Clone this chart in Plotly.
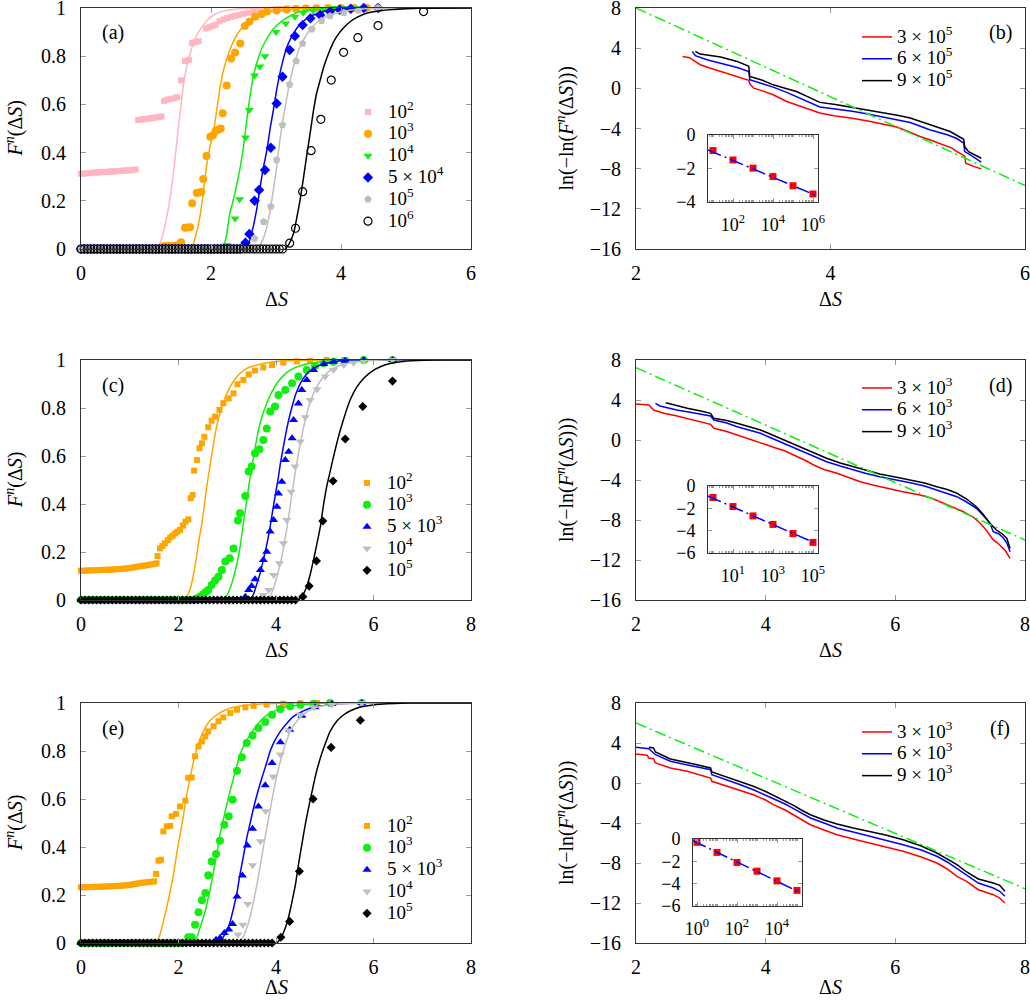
import plotly.graph_objects as go

W, H = 1030, 1002
FONT = "Liberation Serif, DejaVu Serif, Noto Serif, Times New Roman, serif"

# ---------------- Panel (a) data ----------------
a_base_x = [0.00,0.05,0.10,0.15,0.20,0.25,0.30,0.35,0.40,0.45,0.50,0.55,0.60,0.65,0.70,0.75,0.80,0.85,0.90,0.95,
            1.00,1.05,1.10,1.15,1.20,1.25,1.30,1.35,1.40,1.45,1.50,1.55,1.60,1.65,1.70,1.75,1.80,1.85,1.90,1.95,
            2.00,2.05,2.10,2.15,2.20,2.25,2.30,2.35,2.40,2.45,2.50,2.55,2.60,2.65,2.70,2.75,2.80,2.85,2.90,2.95,
            3.00,3.05,3.10]

a_pink_x = [0.00,0.04,0.08,0.12,0.16,0.20,0.24,0.28,0.32,0.36,0.40,0.44,0.48,0.52,0.56,0.60,0.64,0.68,0.72,0.76,0.80,0.84,
            0.88,0.92,0.96,1.00,1.04,1.08,1.12,1.16,1.20,1.24,1.28,1.33,1.38,1.43,1.48,1.54,1.60,1.66,1.71,1.76,1.81,
            1.92,1.97,2.02,2.07,2.13,2.19,2.25,2.31,2.37,2.43,2.50,2.58,2.66,2.75,2.85,2.95,3.06,3.18,3.30,3.45]
a_pink_y = [0.312,0.313,0.314,0.315,0.316,0.317,0.318,0.318,0.319,0.320,0.320,0.321,0.322,0.322,0.323,0.324,0.325,0.326,0.326,0.327,0.328,0.330,
            0.535,0.537,0.538,0.540,0.541,0.543,0.545,0.546,0.548,0.550,0.615,0.620,0.622,0.625,0.630,0.70,0.78,0.785,0.855,0.858,0.862,
            0.915,0.92,0.925,0.93,0.945,0.952,0.958,0.963,0.967,0.971,0.976,0.980,0.984,0.988,0.991,0.994,0.996,0.998,0.999,1.0]
a_pink_fit_x = [1.18,1.25,1.32,1.38,1.42,1.46,1.50,1.54,1.58,1.63,1.68,1.75,1.83,1.93,2.04,2.20,2.40,2.70,3.2,6.0]
a_pink_fit_y = [0.0,0.05,0.134,0.23,0.314,0.41,0.507,0.60,0.688,0.76,0.812,0.87,0.909,0.945,0.971,0.988,0.996,0.999,1.0,1.0]

a_orange_x = [1.28,1.34,1.40,1.46,1.54,1.60,1.64,1.68,1.71,1.78,1.82,1.85,1.88,1.93,1.99,2.03,2.07,2.11,2.15,2.18,2.24,
              2.31,2.37,2.45,2.52,2.59,2.68,2.78,2.86,3.01,3.16,3.31,3.46,3.62,3.80,4.0,4.2,4.4,4.57]
a_orange_y = [0.012,0.013,0.014,0.015,0.028,0.088,0.089,0.090,0.19,0.232,0.234,0.236,0.29,0.386,0.466,0.472,0.49,0.495,0.50,0.563,0.678,
              0.79,0.815,0.853,0.925,0.943,0.964,0.975,0.985,0.99,0.994,0.996,0.998,0.999,1,1,1,1,1]
a_orange_fit_x = [1.70,1.76,1.83,1.88,1.93,1.98,2.04,2.09,2.14,2.20,2.29,2.37,2.45,2.56,2.70,2.85,3.01,3.3,3.8,6.0]
a_orange_fit_y = [0.0,0.05,0.134,0.23,0.34,0.42,0.49,0.58,0.67,0.75,0.826,0.875,0.909,0.945,0.97,0.983,0.99,0.997,1.0,1.0]

a_green_x = [2.24,2.37,2.44,2.53,2.59,2.67,2.75,2.83,3.00,3.15,3.29,3.42,3.57,3.73,3.90,4.08,4.27]
a_green_y = [0.017,0.127,0.206,0.463,0.577,0.72,0.757,0.80,0.90,0.936,0.964,0.98,0.99,0.996,1,1,1]
a_green_fit_x = [2.19,2.24,2.29,2.34,2.39,2.45,2.50,2.57,2.65,2.75,2.83,2.91,3.00,3.11,3.24,3.37,3.68,4.2,6.0]
a_green_fit_y = [0.0,0.06,0.148,0.20,0.259,0.34,0.425,0.577,0.715,0.81,0.86,0.895,0.925,0.95,0.97,0.985,0.996,1.0,1.0]

a_blue_x = [2.53,2.59,2.67,2.74,2.83,2.92,3.01,3.10,3.21,3.29,3.41,3.53,3.68,3.83,3.98,4.15,4.35,4.57]
a_blue_y = [0.026,0.062,0.20,0.245,0.328,0.42,0.604,0.715,0.826,0.884,0.929,0.957,0.971,0.985,0.993,0.997,1,1]
a_blue_fit_x = [2.55,2.60,2.65,2.70,2.75,2.80,2.86,2.91,2.96,3.01,3.06,3.11,3.16,3.24,3.32,3.42,3.52,3.65,3.78,4.0,4.4,6.0]
a_blue_fit_y = [0.0,0.04,0.093,0.16,0.245,0.33,0.41,0.50,0.577,0.66,0.729,0.785,0.833,0.88,0.916,0.945,0.964,0.978,0.989,0.996,1.0,1.0]

a_gray_x = [2.67,2.81,2.92,3.01,3.10,3.21,3.31,3.41,3.55,3.70,3.83,4.04,4.27,4.57]
a_gray_y = [0.044,0.113,0.176,0.369,0.515,0.683,0.78,0.853,0.912,0.947,0.967,0.98,0.99,1.0]
a_gray_fit_x = [2.73,2.80,2.86,2.91,2.96,3.01,3.06,3.11,3.16,3.21,3.27,3.37,3.45,3.52,3.65,3.78,3.95,4.09,4.4,6.0]
a_gray_fit_y = [0.0,0.04,0.093,0.16,0.245,0.34,0.452,0.54,0.618,0.69,0.757,0.84,0.88,0.909,0.945,0.964,0.98,0.989,0.997,1.0]

a_black_x = [3.21,3.30,3.41,3.54,3.69,3.85,4.04,4.26,4.57,5.27]
a_black_y = [0.024,0.086,0.238,0.408,0.538,0.701,0.816,0.877,0.927,0.985]
a_black_fit_x = [3.14,3.20,3.27,3.32,3.37,3.42,3.47,3.52,3.57,3.62,3.68,3.74,3.81,3.87,3.93,4.03,4.14,4.26,4.39,4.6,4.81,5.2,6.0]
a_black_fit_y = [0.0,0.02,0.065,0.13,0.203,0.29,0.383,0.47,0.563,0.64,0.701,0.76,0.812,0.85,0.88,0.915,0.943,0.963,0.978,0.989,0.994,0.999,1.0]

a_labels = ["10<sup>2</sup>", "10<sup>3</sup>", "10<sup>4</sup>", "5 × 10<sup>4</sup>", "10<sup>5</sup>", "10<sup>6</sup>"]
a_zero_cut = [None, 1.25, 2.2, 2.5, 2.62, 3.12]

# ---------------- Panel (b) data ----------------
b_red_x = [2.48,2.55,2.58,2.66,2.75,2.87,3.00,3.07,3.16,3.17,3.21,3.30,3.41,3.55,3.65,3.77,3.89,4.05,4.24,4.41,4.58,4.68,4.80,4.92,5.04,5.16,5.25,5.30,5.38,5.39,5.42,5.48,5.55]
b_red_y = [3.18,3.05,2.85,2.35,2.05,1.68,1.25,1.02,0.80,0.45,0.02,-0.25,-0.64,-1.31,-1.64,-2.0,-2.45,-2.75,-3.0,-3.3,-3.6,-3.85,-4.3,-4.8,-5.2,-5.63,-5.95,-6.30,-6.73,-7.46,-7.6,-7.8,-8.02]
b_blue_x = [2.58,2.61,2.73,2.93,3.05,3.16,3.17,3.30,3.41,3.55,3.65,3.77,3.89,4.05,4.24,4.41,4.58,4.70,4.82,5.02,5.20,5.30,5.37,5.38,5.45,5.55]
b_blue_y = [3.68,3.25,2.85,2.35,2.05,1.68,0.85,0.45,0.12,-0.4,-0.81,-1.3,-1.85,-2.05,-2.3,-2.6,-2.95,-3.15,-3.4,-4.13,-4.63,-5.0,-5.46,-6.30,-6.7,-7.36]
b_black_x = [2.61,2.66,2.87,3.04,3.16,3.17,3.30,3.41,3.55,3.65,3.77,3.89,4.05,4.24,4.41,4.58,4.70,4.82,5.02,5.23,5.37,5.38,5.42,5.55]
b_black_y = [3.68,3.41,3.11,2.68,2.2,1.18,0.8,0.35,-0.05,-0.31,-0.85,-1.4,-1.6,-1.9,-2.2,-2.5,-2.7,-2.95,-3.64,-4.30,-5.07,-5.8,-6.3,-6.96]
b_fit_x = [2.0, 6.0]
b_fit_y = [8.0, -9.68]
b_labels = ["3 × 10<sup>5</sup>", "6 × 10<sup>5</sup>", "9 × 10<sup>5</sup>"]
b_in_x = [10, 100, 1e3, 1e4, 1e5, 1e6]
b_in_y = [-0.93, -1.49, -1.98, -2.48, -3.03, -3.52]
b_in_fit_x = [5.6, 1.78e6]
b_in_fit_y = [-0.89, -3.66]

# ---------------- Panel (c) data ----------------
c_base_x = [0.00,0.08,0.16,0.24,0.32,0.40,0.48,0.56,0.64,0.72,0.80,0.88,0.96,1.04,1.12,1.20,1.28,1.36,1.44,1.52,
            1.60,1.68,1.76,1.84,1.92,2.00,2.08,2.16,2.24,2.32,2.40,2.48,2.56,2.64,2.72,2.80,2.88,2.96,3.04,3.12,
            3.20,3.28,3.36,3.44,3.52,3.60,3.68,3.76,3.84,3.92,4.00,4.08,4.16,4.24,4.32,4.40]

c_orange_x = [0.00,0.06,0.12,0.18,0.24,0.30,0.36,0.42,0.48,0.54,0.60,0.66,0.72,0.78,0.84,0.90,0.96,1.02,1.08,1.14,1.20,1.26,1.32,1.38,1.44,1.50,1.55,
              1.57,1.62,1.67,1.72,1.78,1.83,1.88,1.93,1.98,2.03,2.09,2.14,2.20,2.25,2.29,2.32,2.38,2.43,2.48,2.53,2.61,2.68,2.75,2.84,2.92,
              3.03,3.13,3.21,3.33,3.44,3.57,3.74,3.92,4.15,4.43,4.70,5.04,5.40]
c_orange_y = [0.122,0.122,0.123,0.123,0.124,0.124,0.125,0.125,0.126,0.126,0.127,0.127,0.128,0.129,0.130,0.131,0.132,0.134,0.136,0.138,0.140,0.142,0.144,0.146,0.148,0.150,0.153,
              0.183,0.215,0.225,0.236,0.25,0.26,0.268,0.278,0.285,0.292,0.31,0.326,0.336,0.424,0.437,0.539,0.583,0.632,0.653,0.68,0.72,0.747,0.764,0.792,0.82,
              0.84,0.861,0.899,0.917,0.94,0.956,0.969,0.979,0.989,0.994,0.997,1.0,1.0]
c_orange_fit_x = [2.12,2.20,2.27,2.32,2.37,2.42,2.48,2.53,2.58,2.65,2.72,2.78,2.85,2.95,3.06,3.16,3.26,3.40,3.61,3.85,4.15,4.6,5.5,8.0]
c_orange_fit_y = [0.0,0.025,0.069,0.12,0.181,0.25,0.319,0.395,0.472,0.565,0.653,0.72,0.778,0.84,0.889,0.92,0.944,0.965,0.979,0.99,0.996,0.999,1.0,1.0]

c_green_x = [2.38,2.45,2.51,2.56,2.61,2.68,2.75,2.82,2.89,2.96,3.05,3.13,3.22,3.26,3.37,3.44,3.50,3.57,3.66,3.74,3.81,3.88,3.98,4.05,4.19,4.33,4.46,4.63,4.80,4.98,5.18,5.42,5.80,6.39]
c_green_y = [0.007,0.015,0.025,0.033,0.042,0.063,0.081,0.097,0.125,0.16,0.174,0.215,0.331,0.361,0.433,0.535,0.556,0.611,0.628,0.667,0.715,0.785,0.806,0.854,0.875,0.903,0.931,0.958,0.975,0.986,0.993,0.997,1.0,1.0]
c_green_fit_x = [2.91,2.98,3.06,3.13,3.20,3.27,3.33,3.39,3.44,3.49,3.54,3.59,3.64,3.72,3.81,3.91,4.02,4.15,4.29,4.48,4.70,5.18,6.0,8.0]
c_green_fit_y = [0.0,0.015,0.049,0.095,0.153,0.23,0.319,0.40,0.472,0.535,0.597,0.655,0.708,0.77,0.819,0.865,0.903,0.935,0.958,0.975,0.986,0.997,1.0,1.0]

c_blue_x = [3.37,3.44,3.50,3.57,3.68,3.74,3.81,3.88,3.95,4.02,4.05,4.12,4.19,4.26,4.33,4.36,4.46,4.53,4.63,4.77,4.98,5.18,5.42,5.80,6.39]
c_blue_y = [0.014,0.042,0.058,0.086,0.125,0.167,0.201,0.285,0.333,0.389,0.444,0.493,0.583,0.618,0.674,0.75,0.819,0.875,0.917,0.958,0.983,0.993,0.997,1.0,1.0]
c_blue_fit_x = [3.46,3.54,3.61,3.68,3.74,3.81,3.88,3.93,3.98,4.04,4.09,4.14,4.19,4.26,4.33,4.41,4.50,4.62,4.77,4.92,5.11,5.35,5.59,6.2,8.0]
c_blue_fit_y = [0.0,0.025,0.069,0.115,0.167,0.23,0.306,0.37,0.431,0.50,0.569,0.625,0.681,0.75,0.806,0.86,0.903,0.94,0.965,0.98,0.99,0.997,1.0,1.0,1.0]

c_gray_x = [3.74,3.85,3.95,4.07,4.15,4.22,4.31,4.39,4.50,4.60,4.70,4.84,5.01,5.18,5.39,5.59,5.80,6.39]
c_gray_y = [0.021,0.042,0.104,0.153,0.236,0.333,0.451,0.556,0.66,0.761,0.833,0.878,0.931,0.958,0.979,0.989,0.996,1.0]
c_gray_fit_x = [3.81,3.90,3.98,4.05,4.12,4.19,4.26,4.31,4.36,4.41,4.46,4.53,4.60,4.68,4.77,4.87,4.98,5.10,5.25,5.45,5.66,6.21,8.0]
c_gray_fit_y = [0.0,0.025,0.069,0.12,0.181,0.26,0.347,0.42,0.486,0.55,0.611,0.685,0.75,0.81,0.861,0.9,0.931,0.955,0.972,0.985,0.993,1.0,1.0]

c_black_x = [4.55,4.68,4.83,4.96,5.17,5.42,5.78,6.39]
c_black_y = [0.014,0.058,0.163,0.329,0.496,0.671,0.806,0.912]
c_black_fit_x = [4.46,4.55,4.63,4.70,4.77,4.84,4.91,4.97,5.04,5.11,5.18,5.25,5.32,5.42,5.52,5.65,5.80,5.96,6.14,6.34,6.55,6.9,7.23,8.0]
c_black_fit_y = [0.0,0.02,0.056,0.105,0.167,0.235,0.306,0.39,0.472,0.535,0.597,0.655,0.708,0.775,0.833,0.885,0.924,0.952,0.972,0.985,0.993,0.998,1.0,1.0]

ce_labels = ["10<sup>2</sup>", "10<sup>3</sup>", "5 × 10<sup>3</sup>", "10<sup>4</sup>", "10<sup>5</sup>"]
c_zero_cut = [None, 2.35, 3.33, 3.70, 4.45]

# ---------------- Panel (d) data ----------------
d_red_x = [2.00,2.20,2.27,2.43,2.60,2.79,3.00,3.15,3.20,3.40,3.56,3.81,4.00,4.12,4.30,4.43,4.60,4.74,4.90,5.10,5.30,5.46,5.65,5.87,6.10,6.38,6.55,6.69,6.85,7.05,7.20,7.31,7.40,7.51,7.58,7.64,7.70,7.77]
d_red_y = [3.6,3.5,3.0,2.67,2.45,2.17,1.85,1.57,1.17,0.85,0.5,0.0,-0.45,-0.73,-1.1,-1.5,-2.0,-2.5,-2.95,-3.33,-3.8,-4.17,-4.5,-4.83,-5.15,-5.5,-5.8,-6.17,-6.6,-7.17,-7.7,-8.33,-9.0,-10.0,-10.3,-10.67,-11.1,-11.83]
d_blue_x = [2.30,2.37,2.50,2.63,2.90,3.15,3.20,3.40,3.56,3.75,3.92,4.05,4.22,4.40,4.58,4.75,4.94,5.15,5.35,5.55,5.76,6.00,6.23,6.45,6.64,6.80,6.95,7.10,7.25,7.35,7.46,7.51,7.60,7.67,7.72,7.77]
d_blue_y = [3.67,3.4,3.2,3.0,2.7,2.4,2.0,1.7,1.33,1.0,0.67,0.3,-0.17,-0.7,-1.17,-1.7,-2.17,-2.6,-3.0,-3.35,-3.67,-3.95,-4.27,-4.6,-5.0,-5.3,-5.67,-6.2,-6.83,-7.5,-8.33,-9.17,-9.4,-9.83,-10.3,-11.17]
d_black_x = [2.46,2.53,2.65,2.79,3.00,3.15,3.20,3.40,3.56,3.75,3.92,4.05,4.22,4.40,4.58,4.75,4.94,5.15,5.35,5.55,5.76,6.00,6.23,6.45,6.64,6.80,6.95,7.10,7.25,7.35,7.46,7.52,7.56,7.65,7.72,7.77]
d_black_y = [3.73,3.6,3.4,3.17,2.9,2.67,2.17,1.95,1.67,1.33,1.0,0.65,0.17,-0.3,-0.83,-1.33,-1.83,-2.3,-2.67,-3.05,-3.4,-3.7,-4.0,-4.3,-4.67,-4.95,-5.33,-5.9,-6.67,-7.4,-8.33,-8.7,-9.0,-9.4,-9.83,-10.83]
d_fit_x = [2.0, 8.0]
d_fit_y = [7.23, -10.0]
df_labels = ["3 × 10<sup>3</sup>", "6 × 10<sup>3</sup>", "9 × 10<sup>3</sup>"]
d_in_x = [1, 10, 100, 1e3, 1e4, 1e5]
d_in_y = [-1.03, -1.84, -2.68, -3.44, -4.26, -5.05]
d_in_fit_x = [0.56, 1.78e5]
d_in_fit_y = [-0.9, -5.22]

# ---------------- Panel (e) data ----------------
e_orange_x = [0.00,0.06,0.12,0.18,0.24,0.30,0.36,0.42,0.48,0.54,0.60,0.66,0.72,0.78,0.84,0.90,0.96,1.02,1.08,1.14,1.20,1.26,1.32,1.38,1.44,1.50,
              1.54,1.59,1.64,1.69,1.76,1.83,1.86,1.95,2.03,2.14,2.20,2.27,2.34,2.41,2.48,2.55,2.61,2.72,2.82,2.92,3.06,3.20,3.37,3.54,3.81,4.15,4.50,4.84]
e_orange_y = [0.232,0.232,0.233,0.233,0.233,0.234,0.234,0.235,0.235,0.236,0.236,0.237,0.237,0.238,0.239,0.240,0.241,0.243,0.245,0.247,0.249,0.251,0.252,0.254,0.255,0.257,
              0.288,0.343,0.347,0.465,0.486,0.488,0.528,0.538,0.569,0.593,0.688,0.69,0.778,0.819,0.84,0.861,0.882,0.903,0.924,0.94,0.958,0.972,0.982,0.988,0.993,0.997,0.999,1.0]
e_orange_fit_x = [1.55,1.62,1.69,1.76,1.83,1.90,1.96,2.02,2.07,2.12,2.17,2.24,2.31,2.40,2.51,2.64,2.79,2.95,3.13,3.40,3.68,4.36,8.0]
e_orange_fit_y = [0.0,0.035,0.09,0.15,0.215,0.29,0.368,0.44,0.493,0.555,0.618,0.69,0.757,0.825,0.882,0.925,0.951,0.97,0.982,0.991,0.996,1.0,1.0]

e_green_x = [2.20,2.27,2.34,2.41,2.48,2.55,2.61,2.68,2.77,2.85,2.94,3.03,3.11,3.20,3.30,3.40,3.52,3.64,3.78,3.92,4.09,4.29,4.50,4.77,5.11,5.76]
e_green_y = [0.024,0.024,0.076,0.128,0.178,0.208,0.282,0.34,0.371,0.426,0.493,0.528,0.597,0.718,0.774,0.833,0.865,0.896,0.921,0.951,0.975,0.986,0.993,0.997,1.0,1.0]
e_green_fit_x = [2.32,2.38,2.44,2.51,2.58,2.65,2.72,2.79,2.85,2.92,2.99,3.06,3.13,3.20,3.26,3.36,3.47,3.60,3.74,3.90,4.09,4.29,4.50,5.18,8.0]
e_green_fit_y = [0.0,0.025,0.063,0.105,0.16,0.225,0.299,0.375,0.451,0.515,0.576,0.635,0.688,0.74,0.785,0.83,0.868,0.905,0.9375,0.96,0.976,0.986,0.993,1.0,1.0]

e_blue_x = [2.77,2.85,2.94,3.03,3.11,3.20,3.31,3.41,3.52,3.64,3.78,3.92,4.09,4.28,4.53,4.80,5.15,5.76]
e_blue_y = [0.014,0.021,0.042,0.056,0.079,0.194,0.281,0.406,0.476,0.569,0.657,0.75,0.836,0.889,0.947,0.982,0.996,1.0]
e_blue_fit_x = [2.82,2.90,2.99,3.06,3.13,3.20,3.26,3.33,3.40,3.47,3.54,3.62,3.71,3.80,3.88,3.98,4.09,4.22,4.36,4.55,4.77,5.05,5.32,5.87,8.0]
e_blue_fit_y = [0.0,0.02,0.049,0.09,0.146,0.21,0.285,0.36,0.4375,0.50,0.5625,0.625,0.6875,0.745,0.799,0.845,0.882,0.915,0.944,0.966,0.983,0.992,0.997,1.0,1.0]

e_gray_x = [3.22,3.32,3.42,3.52,3.68,3.79,3.94,4.09,4.26,4.50,4.77,5.15,5.76]
e_gray_y = [0.035,0.076,0.1625,0.324,0.424,0.549,0.694,0.785,0.885,0.951,0.982,0.993,1.0]
e_gray_fit_x = [3.23,3.31,3.40,3.47,3.54,3.61,3.68,3.74,3.81,3.88,3.95,4.02,4.09,4.19,4.29,4.43,4.57,4.74,4.91,5.20,5.52,6.2,8.0]
e_gray_fit_y = [0.0,0.02,0.0625,0.11,0.174,0.245,0.326,0.40,0.479,0.555,0.632,0.70,0.757,0.825,0.882,0.925,0.954,0.975,0.986,0.995,0.999,1.0,1.0]

e_black_x = [4.10,4.28,4.48,4.76,5.13,5.73]
e_black_y = [0.024,0.09,0.299,0.60,0.815,0.928]
e_black_fit_x = [4.02,4.10,4.19,4.26,4.33,4.40,4.46,4.53,4.60,4.67,4.74,4.82,4.91,5.01,5.11,5.25,5.39,5.55,5.73,5.95,6.21,6.55,6.89,8.0]
e_black_fit_y = [0.0,0.02,0.0625,0.11,0.174,0.245,0.326,0.41,0.493,0.565,0.632,0.705,0.771,0.83,0.882,0.925,0.951,0.97,0.983,0.991,0.996,0.999,1.0,1.0]
e_zero_cut = [None, 2.15, 2.72, 3.15, 3.96]

# ---------------- Panel (f) data ----------------
f_red_x = [2.00,2.17,2.20,2.27,2.30,2.53,2.79,3.00,3.15,3.17,3.40,3.60,3.81,4.00,4.12,4.30,4.43,4.55,4.69,4.90,5.10,5.35,5.61,5.85,6.12,6.40,6.64,6.80,6.95,7.10,7.28,7.51,7.61,7.69]
f_red_y = [2.9,2.77,2.5,2.43,2.0,1.5,1.17,0.8,0.5,0.17,-0.33,-0.75,-1.17,-1.7,-2.17,-2.7,-3.17,-3.65,-4.17,-4.7,-5.17,-5.6,-6.0,-6.4,-6.83,-7.4,-8.0,-8.6,-9.33,-9.83,-10.67,-11.17,-11.5,-12.0]
f_blue_x = [2.00,2.20,2.30,2.53,2.89,3.15,3.17,3.40,3.60,3.81,4.00,4.12,4.30,4.43,4.55,4.69,4.90,5.10,5.35,5.61,5.85,6.12,6.40,6.64,6.80,6.95,7.10,7.28,7.51,7.61,7.69]
f_blue_y = [3.57,3.43,2.83,2.17,1.67,1.33,0.83,0.33,-0.15,-0.67,-1.2,-1.57,-2.1,-2.57,-3.0,-3.5,-4.0,-4.5,-4.9,-5.33,-5.7,-6.17,-6.7,-7.33,-7.9,-8.57,-9.2,-10.0,-10.5,-10.83,-11.33]
f_black_x = [2.20,2.27,2.30,2.53,2.89,3.15,3.17,3.40,3.60,3.81,4.00,4.12,4.30,4.43,4.55,4.69,4.90,5.10,5.35,5.61,5.85,6.12,6.40,6.64,6.80,6.95,7.10,7.28,7.51,7.61,7.69]
f_black_y = [3.57,3.5,3.1,2.4,1.9,1.5,1.1,0.57,0.1,-0.33,-0.85,-1.23,-1.75,-2.23,-2.7,-3.17,-3.7,-4.1,-4.5,-4.83,-5.2,-5.67,-6.3,-7.0,-7.6,-8.17,-8.9,-9.6,-10.0,-10.23,-10.83]
f_fit_x = [2.0, 8.0]
f_fit_y = [6.0, -10.57]
f_in_x = [1, 10, 100, 1e3, 1e4, 1e5]
f_in_y = [-0.3, -1.2, -2.1, -2.88, -3.75, -4.6]
f_in_fit_x = [0.63, 1.6e5]
f_in_fit_y = [-0.15, -4.83]

# ---------------- styles ----------------
PINK, ORANGE, GREEN, BLUE, GRAY, RED = "#ffb6c1", "#ffa500", "#11ee11", "#0000ff", "#bfbfbf", "#ff0000"

fig = go.Figure()

def leg_text(t):
    return '<span style="font-size:19px">' + t + '</span>'

def add_series(xa, ya, x, y, fx, fy, color, symbol, size, name, legend, open_marker=False):
    mk = dict(color=color, symbol=symbol, size=size)
    if open_marker:
        mk = dict(color=color, symbol=symbol, size=size, line=dict(color=color, width=1.2))
    fig.add_trace(go.Scatter(x=x, y=y, mode="markers", marker=mk, name=leg_text(name),
                             legend=legend, xaxis=xa, yaxis=ya, cliponaxis=False))
    fig.add_trace(go.Scatter(x=fx, y=fy, mode="lines", line=dict(color=color, width=1.5, shape="spline", smoothing=0.6),
                             showlegend=False, xaxis=xa, yaxis=ya))

def zeros(base, cut):
    if cut is None:
        return [], []
    xs = [v for v in base if v < cut]
    return xs, [0.0] * len(xs)

# Panel (a)
a_series = [
    (a_pink_x, a_pink_y, a_pink_fit_x, a_pink_fit_y, PINK, "square", 6, False),
    (a_orange_x, a_orange_y, a_orange_fit_x, a_orange_fit_y, ORANGE, "circle", 8, False),
    (a_green_x, a_green_y, a_green_fit_x, a_green_fit_y, GREEN, "triangle-down", 8, False),
    (a_blue_x, a_blue_y, a_blue_fit_x, a_blue_fit_y, BLUE, "diamond", 8, False),
    (a_gray_x, a_gray_y, a_gray_fit_x, a_gray_fit_y, GRAY, "pentagon", 8, False),
    (a_black_x, a_black_y, a_black_fit_x, a_black_fit_y, "black", "circle-open", 8, True),
]
for (x, y, fx, fy, col, sym, sz, op), lab, cut in zip(a_series, a_labels, a_zero_cut):
    zx, zy = zeros(a_base_x, cut)
    add_series("x", "y", zx + x, zy + y, fx, fy, col, sym, sz, lab, "legend", op)

# Panel (c)
c_series = [
    (c_orange_x, c_orange_y, c_orange_fit_x, c_orange_fit_y, ORANGE, "square", 6),
    (c_green_x, c_green_y, c_green_fit_x, c_green_fit_y, GREEN, "circle", 8),
    (c_blue_x, c_blue_y, c_blue_fit_x, c_blue_fit_y, BLUE, "triangle-up", 8),
    (c_gray_x, c_gray_y, c_gray_fit_x, c_gray_fit_y, GRAY, "triangle-down", 8),
    (c_black_x, c_black_y, c_black_fit_x, c_black_fit_y, "black", "diamond", 7),
]
for (x, y, fx, fy, col, sym, sz), lab, cut in zip(c_series, ce_labels, c_zero_cut):
    zx, zy = zeros(c_base_x, cut)
    add_series("x3", "y3", zx + x, zy + y, fx, fy, col, sym, sz, lab, "legend3")

# Panel (e)
e_series = [
    (e_orange_x, e_orange_y, e_orange_fit_x, e_orange_fit_y, ORANGE, "square", 6),
    (e_green_x, e_green_y, e_green_fit_x, e_green_fit_y, GREEN, "circle", 8),
    (e_blue_x, e_blue_y, e_blue_fit_x, e_blue_fit_y, BLUE, "triangle-up", 8),
    (e_gray_x, e_gray_y, e_gray_fit_x, e_gray_fit_y, GRAY, "triangle-down", 8),
    (e_black_x, e_black_y, e_black_fit_x, e_black_fit_y, "black", "diamond", 7),
]
for (x, y, fx, fy, col, sym, sz), lab, cut in zip(e_series, ce_labels, e_zero_cut):
    zx, zy = zeros(c_base_x, cut)
    add_series("x5", "y5", zx + x, zy + y, fx, fy, col, sym, sz, lab, "legend5")

# Right panels
def add_right(xa, ya, curves, labels, legend, fit_x, fit_y):
    for (cx, cy, col), lab in zip(curves, labels):
        fig.add_trace(go.Scatter(x=cx, y=cy, mode="lines", line=dict(color=col, width=1.5),
                                 name=leg_text(lab), legend=legend, xaxis=xa, yaxis=ya))
    fig.add_trace(go.Scatter(x=fit_x, y=fit_y, mode="lines", line=dict(color=GREEN, width=1.5, dash="11px,4px,2px,4px"),
                             showlegend=False, xaxis=xa, yaxis=ya))

add_right("x2", "y2", [(b_red_x, b_red_y, RED), (b_blue_x, b_blue_y, BLUE), (b_black_x, b_black_y, "black")],
          b_labels, "legend2", b_fit_x, b_fit_y)
add_right("x4", "y4", [(d_red_x, d_red_y, RED), (d_blue_x, d_blue_y, BLUE), (d_black_x, d_black_y, "black")],
          df_labels, "legend4", d_fit_x, d_fit_y)
add_right("x6", "y6", [(f_red_x, f_red_y, RED), (f_blue_x, f_blue_y, BLUE), (f_black_x, f_black_y, "black")],
          df_labels, "legend6", f_fit_x, f_fit_y)

def add_inset(xa, ya, px, py, lx, ly):
    fig.add_trace(go.Scatter(x=px, y=py, mode="markers", marker=dict(color=RED, symbol="square", size=7),
                             showlegend=False, xaxis=xa, yaxis=ya, cliponaxis=False))
    fig.add_trace(go.Scatter(x=lx, y=ly, mode="lines", line=dict(color=BLUE, width=1.5, dash="14px,4px,2px,4px"),
                             showlegend=False, xaxis=xa, yaxis=ya))

add_inset("x7", "y7", b_in_x, b_in_y, b_in_fit_x, b_in_fit_y)
add_inset("x8", "y8", d_in_x, d_in_y, d_in_fit_x, d_in_fit_y)
add_inset("x9", "y9", f_in_x, f_in_y, f_in_fit_x, f_in_fit_y)

# ---------------- layout ----------------
def dxp(a, b):
    return [a / W, b / W]

def dyp(t, b):
    return [1 - b / H, 1 - t / H]

def ax(domain, rng, tv, tt, anchor, size=20, standoff=6, **kw):
    d = dict(domain=domain, range=rng, tickvals=tv, ticktext=tt, anchor=anchor, automargin=False,
             showline=True, mirror="allticks", linecolor="#333333", linewidth=1,
             ticks="inside", ticklen=5, tickcolor="#999999", tickwidth=1,
             showgrid=False, zeroline=False, ticklabelstandoff=standoff, ticklabeloverflow="allow",
             tickfont=dict(family=FONT, size=size, color="black"))
    d.update(kw)
    return d

yl_v = [0, 0.2, 0.4, 0.6, 0.8, 1]
yl_t = ["0", "0.2", "0.4", "0.6", "0.8", "1"]
yr_v = [-16, -12, -8, -4, 0, 4, 8]
yr_t = ["−16", "−12", "−8", "−4", "0", "4", "8"]

ROW = [(8, 249), (360, 600), (703, 943)]
LX, RX = (81, 471), (636, 1025)

layout = dict(
    width=W, height=H, margin=dict(l=0, r=0, t=0, b=0, autoexpand=False),
    paper_bgcolor="white", plot_bgcolor="white",
    font=dict(family=FONT, size=20, color="black"),
    xaxis=ax(dxp(*LX), [0, 6], [0, 2, 4, 6], ["0", "2", "4", "6"], "y"),
    yaxis=ax(dyp(*ROW[0]), [0, 1], yl_v, yl_t, "x", standoff=10),
    xaxis2=ax(dxp(*RX), [2, 6], [2, 4, 6], ["2", "4", "6"], "y2"),
    yaxis2=ax(dyp(*ROW[0]), [-16, 8], yr_v, yr_t, "x2", standoff=10),
    xaxis3=ax(dxp(*LX), [0, 8], [0, 2, 4, 6, 8], ["0", "2", "4", "6", "8"], "y3"),
    yaxis3=ax(dyp(*ROW[1]), [0, 1], yl_v, yl_t, "x3", standoff=10),
    xaxis4=ax(dxp(*RX), [2, 8], [2, 4, 6, 8], ["2", "4", "6", "8"], "y4"),
    yaxis4=ax(dyp(*ROW[1]), [-16, 8], yr_v, yr_t, "x4", standoff=10),
    xaxis5=ax(dxp(*LX), [0, 8], [0, 2, 4, 6, 8], ["0", "2", "4", "6", "8"], "y5"),
    yaxis5=ax(dyp(*ROW[2]), [0, 1], yl_v, yl_t, "x5", standoff=10),
    xaxis6=ax(dxp(*RX), [2, 8], [2, 4, 6, 8], ["2", "4", "6", "8"], "y6"),
    yaxis6=ax(dyp(*ROW[2]), [-16, 8], yr_v, yr_t, "x6", standoff=10),
    # insets
    xaxis7=ax(dxp(708, 818), [0.75, 6.25], [1e2, 1e4, 1e6], ["10<sup>2</sup>", "10<sup>4</sup>", "10<sup>6</sup>"], "y7",
              size=18, type="log", ticklen=4, minor=dict(ticks="inside", ticklen=2, dtick="D1", tickcolor="#999999")),
    yaxis7=ax(dyp(135, 202), [-4, 0], [-4, -2, 0], ["−4", "−2", "0"], "x7", size=18, ticklen=4, standoff=8),
    xaxis8=ax(dxp(708, 818), [-0.25, 5.25], [1e1, 1e3, 1e5], ["10<sup>1</sup>", "10<sup>3</sup>", "10<sup>5</sup>"], "y8",
              size=18, type="log", ticklen=4, minor=dict(ticks="inside", ticklen=2, dtick="D1", tickcolor="#999999")),
    yaxis8=ax(dyp(486, 553), [-6, 0], [-6, -4, -2, 0], ["−6", "−4", "−2", "0"], "x8", size=18, ticklen=4, standoff=8),
    xaxis9=ax(dxp(693, 802), [-0.2, 5.25], [1e0, 1e2, 1e4], ["10<sup>0</sup>", "10<sup>2</sup>", "10<sup>4</sup>"], "y9",
              size=18, type="log", ticklen=4, minor=dict(ticks="inside", ticklen=2, dtick="D1", tickcolor="#999999")),
    yaxis9=ax(dyp(839, 906), [-6, 0], [-6, -4, -2, 0], ["−6", "−4", "−2", "0"], "x9", size=18, ticklen=4, standoff=8),
)

def leg(x_px, top_px):
    return dict(x=x_px / W, y=1 - top_px / H, xanchor="left", yanchor="top",
                bgcolor="rgba(0,0,0,0)", borderwidth=0, tracegroupgap=0,
                font=dict(family=FONT, size=14.5, color="black"))

layout["legend"] = leg(348, 96)
layout["legend3"] = leg(347, 467)
layout["legend5"] = leg(347, 810)
layout["legend2"] = leg(857, 21)
layout["legend4"] = leg(857, 372)
layout["legend6"] = leg(857, 716)

fig.update_layout(**layout)

ann = []
def txt(x, y, t, angle=0, size=20):
    ann.append(dict(x=x / W, y=1 - y / H, xref="paper", yref="paper", text=t, showarrow=False,
                    textangle=angle, font=dict(family=FONT, size=size, color="black"),
                    xanchor="center", yanchor="middle"))

FN = "<i>F</i><sup><i>n</i></sup>(Δ<i>S</i>)"
LN = "ln(−ln(" + FN + "))"
DS = "Δ<i>S</i>"
title_y = [299, 650, 987]
for (t, b), ty, pl, pr in zip(ROW, title_y, ["(a)", "(c)", "(e)"], ["(b)", "(d)", "(f)"]):
    mid = (t + b) / 2
    txt(14, mid, FN, angle=-90)
    txt(565, mid, LN, angle=-90)
    txt(276, ty, DS)
    txt(830, ty, DS)
    txt(113, t + 25, pl)
    txt(1000, t + 25, pr)

fig.update_layout(annotations=ann)
fig.write_html("out.html")
